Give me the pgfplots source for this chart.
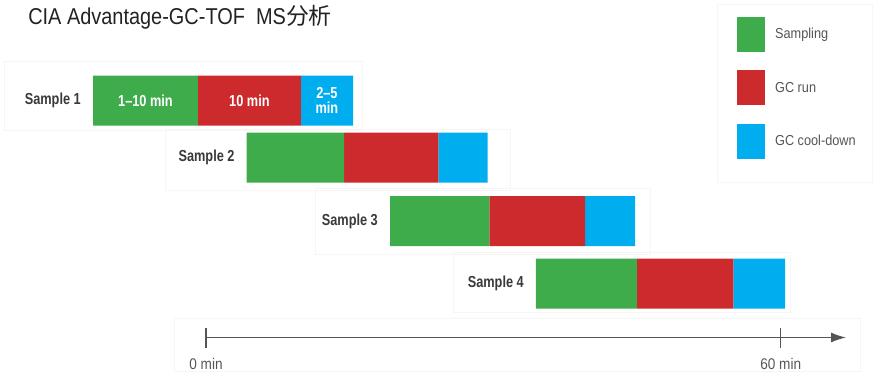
\documentclass[border=0pt]{standalone}
\usepackage{pgfplots}
\pgfplotsset{compat=1.18}
\usetikzlibrary{arrows.meta}
\usepackage{fontspec}
\setmainfont{Liberation Sans}
\newfontfamily\condsans[FakeStretch=0.80]{Liberation Sans}
\newfontfamily\narrowsans[FakeStretch=0.88]{Liberation Sans}
\newfontfamily\titlefont[FakeStretch=0.87]{Liberation Sans}
\newfontfamily\cjk{Noto Sans CJK SC}

\definecolor{sampgreen}{RGB}{62,172,74}
\definecolor{gcred}{RGB}{204,42,45}
\definecolor{coolblue}{RGB}{0,174,239}
\definecolor{labelgray}{RGB}{58,58,58}
\definecolor{axisgray}{RGB}{85,85,85}
\definecolor{titlegray}{RGB}{34,34,34}
\definecolor{panelline}{RGB}{246,246,246}

\tikzset{
  rowlabel/.style={anchor=east, inner sep=0pt, text=labelgray,
    font=\condsans\bfseries\fontsize{16}{16}\selectfont, xshift=-12bp},
  durlabel/.style={inner sep=0pt, text=white, align=center,
    font=\condsans\bfseries\fontsize{16}{15}\selectfont},
  ticklabel/.style={text=axisgray, inner sep=0pt, font=\narrowsans\fontsize{15.5}{15.5}\selectfont},
  panel/.style={draw=panelline, line width=1bp},
}

\begin{document}
\begin{tikzpicture}
\begin{axis}[
  scale only axis, width=874bp, height=372bp,
  xmin=-21.51, xmax=69.74, ymin=0, ymax=372, y dir=reverse,
  axis lines=none, clip=false,
  xbar stacked, stack negative=on previous, bar width=50,
  legend image code/.code={\fill[#1, draw=none] (0bp,-17.5bp) rectangle (28bp,17.5bp);},
  legend cell align=left,
  legend style={at={(rel axis cs:0.8432,0.9551)}, anchor=north west, draw=none, fill=none,
    inner sep=0pt, row sep=18.5bp, font=\narrowsans\fontsize{14.5}{14.5}\selectfont, text=axisgray,
    /tikz/every odd column/.append style={column sep=8bp}},
]
% keep the page the size of the whole drawing area
\path (rel axis cs:0,0) rectangle (rel axis cs:1,1);

% light panels behind the rows, the legend and the time arrow
\draw[panel] (axis cs:-20.99,61) rectangle (axis cs:16.29,130);
\draw[panel] (axis cs:-4.28,129) rectangle (axis cs:31.74,190);
\draw[panel] (axis cs:11.38,188) rectangle (axis cs:46.36,254);
\draw[panel] (axis cs:25.79,252) rectangle (axis cs:60.97,312);
\draw[panel] (axis cs:53.35,5) rectangle (axis cs:69.60,182);
\draw[panel] (axis cs:-3.24,318) rectangle (axis cs:68.28,371.5);

% invisible lead-in: start time of each sample (minutes)
\addplot[draw=none, fill=none, forget plot] coordinates {
  (-11.80,100.5) (4.25,157.5) (19.21,221.0) (34.45,283.7)};
% sampling
\addplot[fill=sampgreen, draw=none] coordinates {
  (10.96,100.5) (10.16,157.5) (10.37,221.0) (10.52,283.7)};
\addlegendentry{Sampling}
% GC run
\addplot[fill=gcred, draw=none] coordinates {
  (10.73,100.5) (9.84,157.5) (9.99,221.0) (10.08,283.7)};
\addlegendentry{GC run}
% GC cool-down
\addplot[fill=coolblue, draw=none] coordinates {
  (5.46,100.5) (5.16,157.5) (5.22,221.0) (5.40,283.7)};
\addlegendentry{GC cool-down}

% row labels
\node[rowlabel] at (axis cs:-11.80,100.5) {Sample 1};
\node[rowlabel] at (axis cs:4.25,157.5) {Sample 2};
\node[rowlabel] at (axis cs:19.21,221.0) {Sample 3};
\node[rowlabel] at (axis cs:34.45,283.7) {Sample 4};

% centres of the first sample's three phases
\coordinate (sampmid) at (axis cs:-6.32,100.5);
\coordinate (runmid)  at (axis cs:4.53,100.5);
\coordinate (coolmid) at (axis cs:12.62,100.5);

% time arrow
\draw[axisgray, line width=1.3bp, -{Latex[length=15bp,width=10bp]}]
  (axis cs:0,337.5) -- (axis cs:66.82,337.5);
\draw[axisgray, line width=1.2bp] (axis cs:0,328) -- (axis cs:0,348);
\draw[axisgray, line width=1.2bp] (axis cs:60,328) -- (axis cs:60,348);
\node[ticklabel] at (axis cs:0,364) {0 min};
\node[ticklabel] at (axis cs:60,364) {60 min};

% title
\node[anchor=base west, inner sep=0pt, text=titlegray,
  font=\titlefont\fontsize{23}{23}\selectfont] at (axis cs:-18.58,25)
  {CIA Advantage-GC-TOF\ \ MS{\cjk 分析}};
\end{axis}

% durations written on top of the first sample's bars
\node[durlabel] at (sampmid) {1–10 min};
\node[durlabel] at (runmid) {10 min};
\node[durlabel] at (coolmid) {2–5\\min};
\end{tikzpicture}
\end{document}
